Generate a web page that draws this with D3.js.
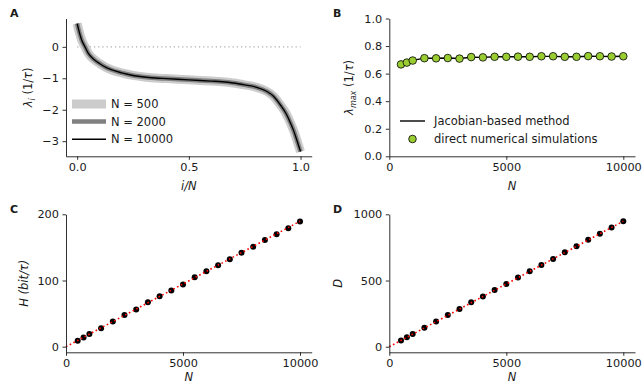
<!DOCTYPE html>
<html>
<head>
<meta charset="utf-8">
<script src="https://cdn.jsdelivr.net/npm/d3@7"></script>
<style>
  body { margin: 0; background: #fff; }
  svg text { font-family: "DejaVu Sans", sans-serif; fill: #1a1a1a; }
  .tick text { font-size: 11.3px; }
  .axis path, .axis line { stroke: #1a1a1a; stroke-width: 0.9; }
</style>
</head>
<body>
<script>
// panel A: eigenvalue spectrum
var specX = [0.0, 0.01, 0.02, 0.035, 0.05, 0.075, 0.10, 0.125, 0.15, 0.20, 0.25, 0.30, 0.35, 0.40, 0.50,
             0.60, 0.65, 0.70, 0.75, 0.80, 0.85, 0.88, 0.91, 0.935, 0.955, 0.97, 0.985, 1.0];
var specY = [0.74, 0.45, 0.22, 0.0, -0.21, -0.40, -0.53, -0.64, -0.72, -0.83, -0.91, -0.96, -0.99, -1.01, -1.05,
             -1.09, -1.11, -1.15, -1.21, -1.28, -1.42, -1.58, -1.85, -2.12, -2.42, -2.68, -3.0, -3.33];
var specSeries = ["N = 500", "N = 2000", "N = 10000"];

// panels B-D share the network sizes
var sizes = [500, 750, 1000, 1500, 2000, 2500, 3000, 3500, 4000, 4500, 5000,
             5500, 6000, 6500, 7000, 7500, 8000, 8500, 9000, 9500, 10000];
var lamJacobian = [0.667, 0.681, 0.696, 0.712, 0.711, 0.713, 0.710, 0.719, 0.718, 0.722, 0.722,
                   0.723, 0.722, 0.725, 0.725, 0.722, 0.722, 0.726, 0.725, 0.724, 0.726];
var lamSim = [0.667, 0.680, 0.695, 0.712, 0.711, 0.713, 0.709, 0.720, 0.718, 0.722, 0.722,
              0.723, 0.722, 0.726, 0.726, 0.722, 0.722, 0.727, 0.726, 0.724, 0.726];
var entropy = [9, 14, 19, 28, 38, 48, 56, 67, 76, 85, 94,
               105, 114, 123, 132, 142, 151, 161, 170, 179, 189];
var dimension = [47, 72, 97, 143, 190, 240, 285, 335, 380, 428, 473,
                 522, 570, 617, 663, 713, 758, 808, 853, 900, 947];
// red dotted fits (end points)
var fitN = [0, 10000];
var fitH = [0, 189.5];
var fitD = [0, 948];

var ticksA_x = [0, 0.5, 1], ticksA_y = [0, -1, -2, -3];
var ticksN = [0, 5000, 10000];
var ticksB_y = [0, 0.2, 0.4, 0.6, 0.8, 1.0];
var ticksC_y = [0, 100, 200], ticksD_y = [0, 500, 1000];

var width = 642, height = 385;
var svg = d3.select("body").append("svg")
    .attr("width", width)
    .attr("height", height);

var left1 = 66, right1 = 311.7, left2 = 389.3, right2 = 635;
var top1 = 18.5, bot1 = 156.3, top2 = 214.3, bot2 = 352.3;

function axes(x, y, xt, yt, xfmt, yfmt) {
  svg.append("g").attr("class", "axis")
      .attr("transform", "translate(0," + y.range()[0] + ")")
      .call(d3.axisBottom(x).tickValues(xt).tickFormat(xfmt).tickSize(3.5).tickPadding(3.5).tickSizeOuter(0));
  svg.append("g").attr("class", "axis")
      .attr("transform", "translate(" + x.range()[0] + ",0)")
      .call(d3.axisLeft(y).tickValues(yt).tickFormat(yfmt).tickSize(3.5).tickPadding(3.5).tickSizeOuter(0));
}

function panelLabel(t, px, py) {
  svg.append("text").attr("x", px).attr("y", py)
      .style("font-size", "11px").style("font-weight", "bold").text(t);
}

function yLabel(px, py) {
  return svg.append("text")
      .attr("transform", "translate(" + px + "," + py + ") rotate(-90)")
      .attr("text-anchor", "middle")
      .attr("dy", "0.35em")
      .style("font-size", "11.5px");
}

function xLabel(t, px, py) {
  svg.append("text").attr("x", px).attr("y", py)
      .attr("text-anchor", "middle")
      .style("font-size", "11.5px").style("font-style", "italic").text(t);
}

var fmtN = d3.format("d");

// ---------- A ----------
var xA = d3.scaleLinear().domain([-0.05, 1.05]).range([left1, right1]);
var yA = d3.scaleLinear().domain([-3.48, 0.90]).range([bot1, top1]);

svg.append("line")
    .attr("x1", xA(0)).attr("x2", xA(1))
    .attr("y1", yA(0)).attr("y2", yA(0))
    .attr("stroke", "#aaaaaa").attr("stroke-width", 1.2)
    .attr("stroke-dasharray", "1.2,3");

var specStyle = [{c: "#cccccc", w: 9}, {c: "#808080", w: 4.5}, {c: "#000000", w: 1.4}];
var lineA = d3.line()
    .x(function(d, i) { return xA(specX[i]); })
    .y(function(d) { return yA(d); })
    .curve(d3.curveMonotoneX);

specSeries.forEach(function(s, k) {
  svg.append("path").datum(specY)
      .attr("d", lineA)
      .attr("fill", "none")
      .attr("stroke", specStyle[k].c)
      .attr("stroke-width", specStyle[k].w)
      .attr("stroke-linecap", "butt");
});
axes(xA, yA, ticksA_x, ticksA_y, d3.format(".1f"), d3.format("d"));

// legend A
specSeries.forEach(function(s, k) {
  var ly = 104 + k * 17.6;
  svg.append("line")
      .attr("x1", 72).attr("x2", 106).attr("y1", ly).attr("y2", ly)
      .attr("stroke", specStyle[k].c).attr("stroke-width", specStyle[k].w);
  svg.append("text").attr("x", 111).attr("y", ly).attr("dy", "0.36em")
      .style("font-size", "11.5px").text(s);
});

var la = yLabel(28, (top1 + bot1) / 2);
la.append("tspan").style("font-style", "italic").text("λ");
la.append("tspan").style("font-style", "italic").style("font-size", "8px").attr("dy", "3").text("i");
la.append("tspan").attr("dy", "-3").text(" (1/");
la.append("tspan").style("font-style", "italic").text("τ");
la.append("tspan").text(")");
xLabel("i/N", (left1 + right1) / 2, 190);
panelLabel("A", 10, 17);

// ---------- B ----------
var xB = d3.scaleLinear().domain([0, 10500]).range([left2, right2]);
var yB = d3.scaleLinear().domain([0, 1]).range([bot1, top1]);

svg.append("path").datum(lamJacobian)
    .attr("d", d3.line().x(function(d, i) { return xB(sizes[i]); }).y(function(d) { return yB(d); }))
    .attr("fill", "none").attr("stroke", "#000").attr("stroke-width", 1.4);
svg.selectAll(".simPt").data(lamSim).enter().append("circle")
    .attr("class", "simPt")
    .attr("cx", function(d, i) { return xB(sizes[i]); })
    .attr("cy", function(d) { return yB(d); })
    .attr("r", 3.8)
    .attr("fill", "#9acd32").attr("stroke", "#000").attr("stroke-width", 0.8);
axes(xB, yB, ticksN, ticksB_y, fmtN, d3.format(".1f"));

svg.append("line").attr("x1", 400).attr("x2", 425).attr("y1", 121).attr("y2", 121)
    .attr("stroke", "#000").attr("stroke-width", 1.4);
svg.append("text").attr("x", 434).attr("y", 121).attr("dy", "0.36em")
    .style("font-size", "11.5px").text("Jacobian-based method");
svg.append("circle").attr("cx", 412.5).attr("cy", 139).attr("r", 3.8)
    .attr("fill", "#9acd32").attr("stroke", "#000").attr("stroke-width", 0.8);
svg.append("text").attr("x", 434).attr("y", 139).attr("dy", "0.36em")
    .style("font-size", "11.5px").text("direct numerical simulations");

var lb = yLabel(349, (top1 + bot1) / 2);
lb.append("tspan").style("font-style", "italic").text("λ");
lb.append("tspan").style("font-style", "italic").style("font-size", "8px").attr("dy", "3").text("max");
lb.append("tspan").attr("dy", "-3").text(" (1/");
lb.append("tspan").style("font-style", "italic").text("τ");
lb.append("tspan").text(")");
xLabel("N", (left2 + right2) / 2, 190);
panelLabel("B", 333, 17);

// ---------- C and D ----------
function scatterPanel(x, y, vals, fit) {
  svg.append("g").selectAll("circle").data(vals).enter().append("circle")
      .attr("cx", function(d, i) { return x(sizes[i]); })
      .attr("cy", function(d) { return y(d); })
      .attr("r", 3)
      .attr("fill", "#000");
  svg.append("path").datum(fit)
      .attr("d", d3.line().x(function(d, i) { return x(fitN[i]); }).y(function(d) { return y(d); }))
      .attr("fill", "none").attr("stroke", "#ff0000").attr("stroke-width", 1.6)
      .attr("stroke-dasharray", "1.6,2.6");
}

var xC = d3.scaleLinear().domain([0, 10500]).range([left1, right1]);
var yC = d3.scaleLinear().domain([-8.5, 200]).range([bot2, top2]);
scatterPanel(xC, yC, entropy, fitH);
axes(xC, yC, ticksN, ticksC_y, fmtN, fmtN);
var lc = yLabel(24, (top2 + bot2) / 2).style("font-style", "italic");
lc.append("tspan").text("H");
lc.append("tspan").text(" (bit/τ)");
xLabel("N", (left1 + right1) / 2, 381);
panelLabel("C", 10, 213);

var xD = d3.scaleLinear().domain([0, 10500]).range([left2, right2]);
var yD = d3.scaleLinear().domain([-42, 1000]).range([bot2, top2]);
scatterPanel(xD, yD, dimension, fitD);
axes(xD, yD, ticksN, ticksD_y, fmtN, fmtN);
yLabel(338, (top2 + bot2) / 2).style("font-style", "italic").text("D");
xLabel("N", (left2 + right2) / 2, 381);
panelLabel("D", 333, 213);
</script>
</body>
</html>
